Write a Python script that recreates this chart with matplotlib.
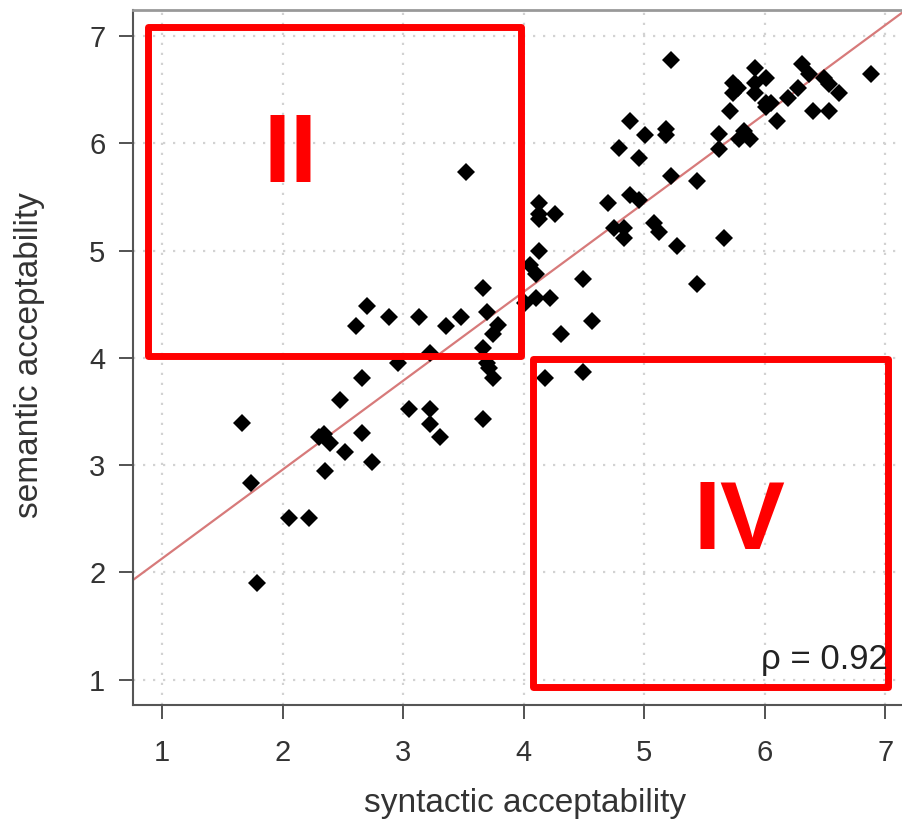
import matplotlib.pyplot as plt
from matplotlib.patches import Rectangle

plt.rcParams['font.family'] = ['Liberation Sans', 'DejaVu Sans']

# per-item ratings (syntactic, semantic)
syntactic = [
    1.66, 1.74, 1.79, 2.05, 2.22, 2.35, 2.30, 2.34, 2.39, 2.52,
    2.48, 2.66, 2.74, 2.66, 2.61, 2.70, 2.88, 2.96, 3.05, 3.22,
    3.22, 3.31, 3.13, 3.36, 3.48, 3.22, 3.66, 3.70, 3.79, 3.75,
    3.66, 3.70, 3.71, 3.75, 3.66, 3.52,
    4.01, 4.05, 4.10, 4.10, 4.22, 4.13, 4.13, 4.13, 4.13, 4.26,
    4.31, 4.49, 4.57, 4.18, 4.49, 4.70, 4.88, 4.96, 4.75, 4.83,
    4.83, 5.08, 5.12,
    5.22, 4.88, 5.01, 5.18, 5.18, 4.79, 4.96, 5.22, 5.44, 5.27,
    5.66, 5.44, 5.62, 5.62, 5.71, 5.74, 5.78, 5.74, 5.92, 5.92,
    5.92, 6.01, 5.83, 5.79, 5.88, 6.01, 6.05, 6.01, 6.10, 6.19,
    6.28, 6.31, 6.37, 6.40, 6.49, 6.53, 6.53, 6.62, 6.88,
]
semantic = [
    3.39, 2.83, 1.90, 2.51, 2.51, 2.95, 3.26, 3.29, 3.21, 3.12,
    3.61, 3.30, 3.03, 3.81, 4.30, 4.48, 4.38, 3.95, 3.52, 3.52,
    3.38, 3.26, 4.38, 4.30, 4.38, 4.05, 4.65, 4.43, 4.31, 4.22,
    4.09, 3.95, 3.91, 3.81, 3.43, 5.73,
    4.51, 4.87, 4.78, 4.56, 4.56, 5.00, 5.44, 5.34, 5.30, 5.34,
    4.22, 4.74, 4.34, 3.81, 3.87, 5.44, 5.52, 5.47, 5.21, 5.21,
    5.12, 5.26, 5.17,
    6.78, 6.21, 6.08, 6.13, 6.08, 5.96, 5.86, 5.70, 5.65, 5.04,
    5.12, 4.69, 6.09, 5.95, 6.30, 6.56, 6.52, 6.47, 6.70, 6.56,
    6.47, 6.61, 6.12, 6.04, 6.04, 6.38, 6.38, 6.34, 6.21, 6.42,
    6.52, 6.74, 6.65, 6.30, 6.61, 6.55, 6.30, 6.47, 6.65,
]

# least-squares line
fit_intercept = 1.30
fit_slope = 0.829
rho = 0.92

ticks = [1, 2, 3, 4, 5, 6, 7]

# highlighted quadrants: (x0, y0, x1, y1, label, label x, label baseline)
quadrants = [
    (0.88, 4.02, 3.98, 7.09, 'II', 2.07, 5.64),
    (4.08, 0.935, 7.02, 3.99, 'IV', 5.79, 2.22),
]

fig = plt.figure(figsize=(9.02, 8.22), dpi=100)
ax = fig.add_axes([0.1475, 0.1418, 0.866, 0.8455])
ax.set_xlim(0.76, 7.24)
ax.set_ylim(0.76, 7.24)

ax.set_xticks(ticks)
ax.set_yticks(ticks)
ax.grid(True, color='#d2d2d2', linestyle=(0, (1, 3.5)), linewidth=1.6)
ax.set_axisbelow(True)

ax.tick_params(axis='both', length=10, width=1.3, color='#444444',
               labelcolor='#333333', labelsize=21)
ax.tick_params(axis='x', pad=14)
ax.tick_params(axis='y', pad=10)
for side in ['left', 'bottom']:
    ax.spines[side].set_color('#555555')
    ax.spines[side].set_linewidth(1.5)
for side in ['top', 'right']:
    ax.spines[side].set_color('#999999')
    ax.spines[side].set_linewidth(2)

ax.axline((0, fit_intercept), slope=fit_slope, color='#d77a7a', lw=1.6, zorder=2)
ax.plot(syntactic, semantic, 'D', color='black', markersize=9.5,
        markeredgewidth=0, zorder=3)

for x0, y0, x1, y1, label, lx, ly in quadrants:
    ax.add_patch(Rectangle((x0, y0), x1 - x0, y1 - y0, fill=False,
                           edgecolor='#ff0000', lw=5, joinstyle='round',
                           zorder=4, clip_on=False))
    ax.text(lx, ly, label, color='#ff0000', fontsize=70, fontweight='bold',
            ha='center', va='baseline', zorder=5)

ax.text(7.02, 1.10, f'\u03c1 = {rho:.2f}', fontsize=25, color='#222222',
        ha='right', va='baseline', zorder=5)

ax.set_xlabel('syntactic acceptability', fontsize=24, color='#333333')
ax.set_ylabel('semantic acceptability', fontsize=24, color='#333333')
ax.xaxis.set_label_coords(0.502, -0.119)
ax.yaxis.set_label_coords(-0.113, 0.504)

fig.savefig('out.png', dpi=100)
